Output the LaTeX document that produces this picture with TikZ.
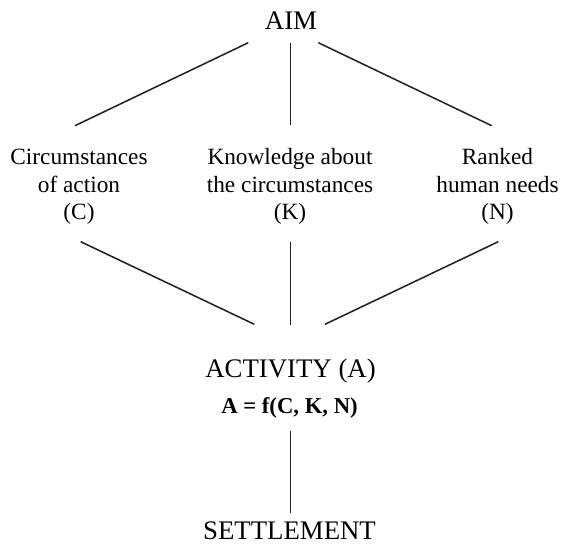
\documentclass[tikz,border=0pt]{standalone}
\usepackage{fontspec}
\setmainfont{Liberation Serif}
\begin{document}
\begin{tikzpicture}[x=1pt,y=-1pt,
  big/.style={font=\fontsize{26.8}{30}\selectfont, inner sep=0pt, anchor=base},
  lab/.style={font=\fontsize{23.3}{27.5}\selectfont, align=center, inner sep=0pt, anchor=base},
  formula/.style={font=\fontsize{22.7}{25}\selectfont\bfseries, inner sep=0pt, anchor=base},
  link/.style={line width=1.5pt, draw=black!88}]
\useasboundingbox (0,0) rectangle (568,556);
% nodes (multi-line labels are anchored at the baseline of their last line)
\node[big] (aim) at (291,29.5) {AIM};
\node[lab] (c) at (79,220) {Circumstances\\of action\\(C)};
\node[lab] (k) at (290,220) {Knowledge about\\the circumstances\\(K)};
\node[lab] (n) at (497.5,220) {Ranked\\human needs\\(N)};
\node[big] (act) at (290.5,377.7) {ACTIVITY (A)};
\node[formula] (f) at (289.5,413) {A = f(C, K, N)};
\node[big] (set) at (289.5,539) {SETTLEMENT};
% connector end points
\coordinate (aimL) at (248.3,42.7);
\coordinate (aimC) at (290.3,42.7);
\coordinate (aimR) at (318.3,42.7);
\coordinate (cT) at (75,125.7);
\coordinate (kT) at (290.3,125.3);
\coordinate (nT) at (491.7,125.7);
\coordinate (cB) at (80.7,241.7);
\coordinate (kB) at (290.3,242.5);
\coordinate (nB) at (498.3,241.7);
\coordinate (actL) at (254.3,324.3);
\coordinate (actC) at (290.3,325);
\coordinate (actR) at (325,324.3);
\coordinate (fB) at (290.3,431);
\coordinate (setT) at (290.3,513);
% connectors
\draw[link] (aimL) -- (cT);
\draw[link] (aimC) -- (kT);
\draw[link] (aimR) -- (nT);
\draw[link] (cB) -- (actL);
\draw[link] (kB) -- (actC);
\draw[link] (nB) -- (actR);
\draw[link] (fB) -- (setT);
\end{tikzpicture}
\end{document}
